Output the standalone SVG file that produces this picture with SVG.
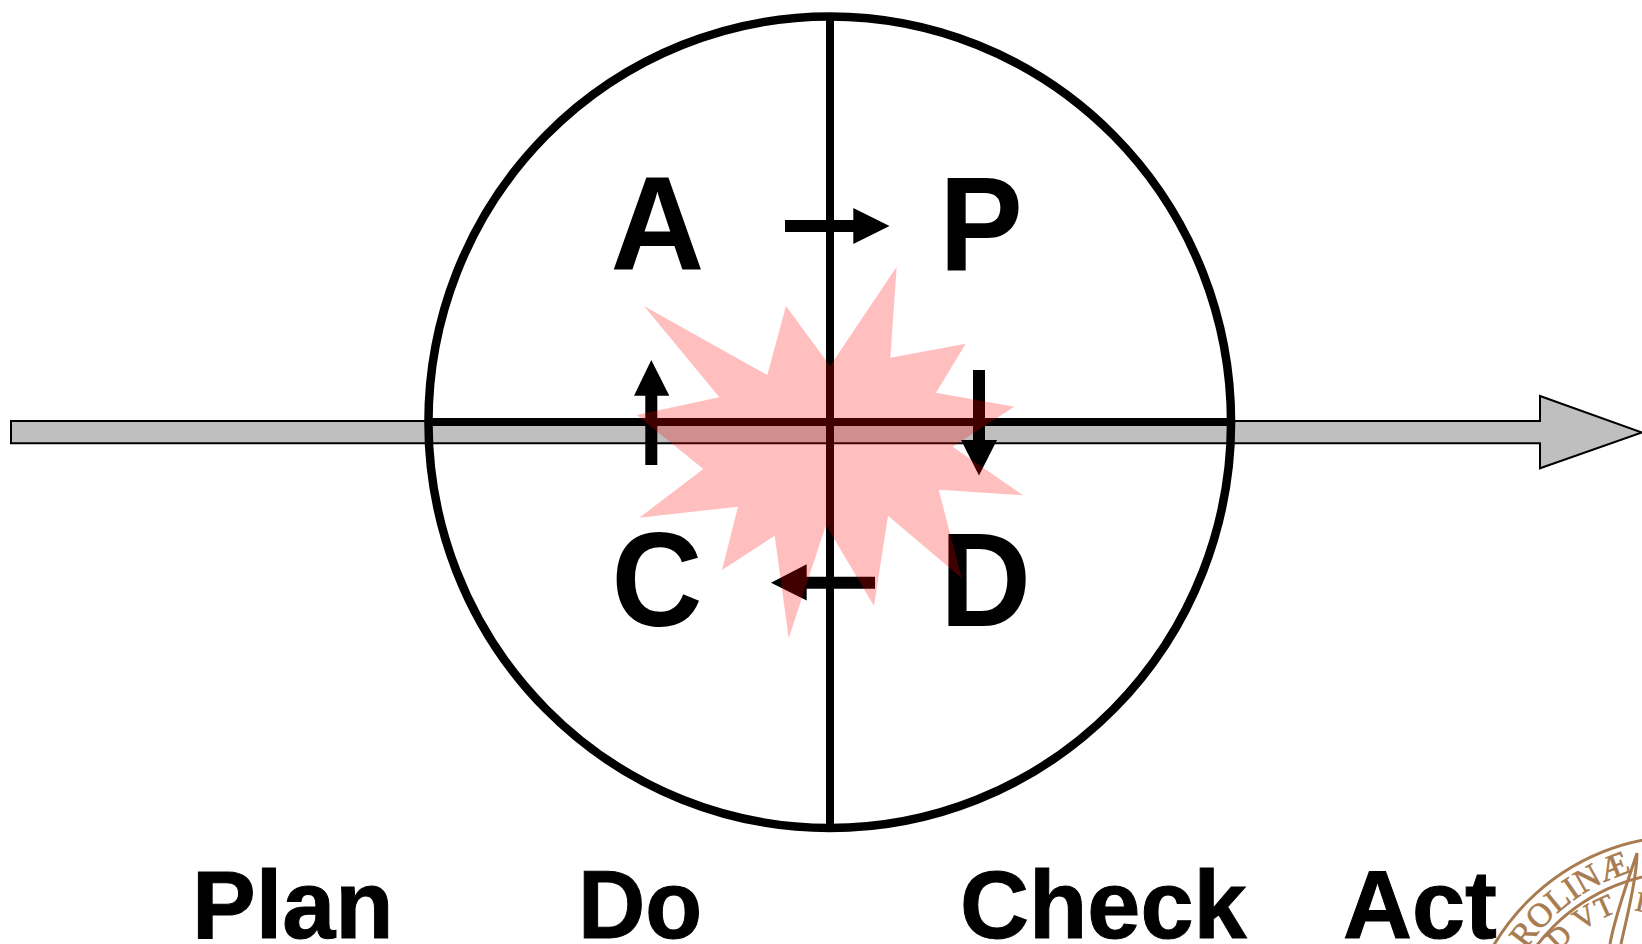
<svg xmlns="http://www.w3.org/2000/svg" width="1642" height="944" viewBox="0 0 1642 944">
<style>
text{font-family:"Liberation Sans",Arial,sans-serif;font-weight:700;fill:#000}
.big{font-size:134px;text-anchor:middle}
.lab{font-size:95.500px;stroke:#000;stroke-width:1}
.ln{stroke:#000;stroke-width:8;fill:none}
.ar{stroke:#000;stroke-width:12;fill:none}
.hd{fill:#000}
.seal{fill:none;stroke:#a87c50;stroke-width:3}
.st{font-family:"Liberation Serif",serif;font-weight:400;fill:#a87c50;stroke:#a87c50;stroke-width:.6}
</style>
<rect width="1642" height="944" fill="#fff"/>
<g id="timeline"><path d="M11 421H1540V396L1642 432.500L1540 468.300V443.300H11Z" fill="#bfbfbf" stroke="#000" stroke-width="2"/></g>
<g id="circle">
<ellipse cx="829.750" cy="422.250" rx="401.300" ry="405.700" class="ln" style="stroke-width:8.500"/>
<path class="ln" d="M830 18V826M430 422H1230"/>
</g>
<g id="connectors">
<path class="ar" d="M785 226H855"/><path class="hd" d="M853.300 208L889.500 226L853.300 244Z"/>
<path class="ar" d="M979 370V441"/><path class="hd" d="M961 440H997L979 475.500Z"/>
<path class="ar" d="M875 582.700H805"/><path class="hd" d="M806.700 564.300V600.500L771 582.700Z"/>
<path class="ar" d="M651.300 465V395"/><path class="hd" d="M634 395.700H669.300L651.300 360Z"/>
</g>
<g id="node-a"><text class="big" transform="translate(657.500 270) scale(.97 1)">A</text></g>
<g id="node-p"><text class="big" transform="translate(981 270) scale(.935 1)">P</text></g>
<g id="node-c"><text class="big" transform="translate(657 626) scale(.94 1)">C</text></g>
<g id="node-d"><text class="big" transform="translate(985.600 626) scale(.94 1)">D</text></g>
<g id="burst"><path fill="#f00" fill-opacity=".25" d="M896.700 266.700L890.300 357.700L965.700 343.700L936 392.700L1014.300 406.700L952.700 446.700L1023 495.300L938.700 489.700L961.700 578.300L888 515.700L874 606L826 525L788.700 638.300L774.700 535.700L722 570L738 506.700L639.300 517.700L703.300 469L636.700 415L719.300 397.300L644 306L767.300 375L786 306L830 366Z"/></g>
<g id="labels">
<text class="lab" x="192" y="938">Plan</text>
<text class="lab" transform="translate(578 938) scale(.975 1)">Do</text>
<text class="lab" x="960" y="938">Check</text>
<text class="lab" x="1343" y="938">Act</text>
</g>
<g id="seal">
<defs><path id="s1" d="M1526 950A194 194 0 0 1 1665 865"/><path id="s2" d="M1558 952A160 160 0 0 1 1640 905"/></defs>
<circle class="seal" cx="1685" cy="1058" r="222"/>
<circle class="seal" cx="1685" cy="1058" r="186"/>
<path class="seal" d="M1637 853C1630 875 1615 915 1610 944M1637 853C1637 880 1626 920 1621 944"/>
<text class="st" font-size="34"><textPath href="#s1">ROLINÆ</textPath></text>
<text class="st" font-size="30" letter-spacing="1"><textPath href="#s2">D VT</textPath></text>
<text class="st" font-size="28" transform="translate(1634 910) rotate(12)">I</text>
</g>
</svg>
